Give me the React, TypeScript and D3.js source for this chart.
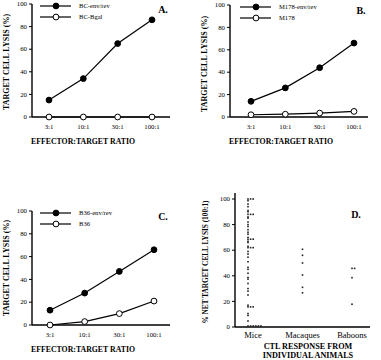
import * as d3 from 'd3'

const ratios = ['3:1', '10:1', '30:1', '100:1']

const seriesA = [
  { name: 'BC-env/rev', filled: true, values: [15, 34, 65, 86] },
  { name: 'BC-Bgal', filled: false, values: [0, 0, 0, 0] },
]
const seriesB = [
  { name: 'M178-env/rev', filled: true, values: [14, 26, 44, 66] },
  { name: 'M178', filled: false, values: [2, 2.5, 3.5, 5] },
]
const seriesC = [
  { name: 'B36-env/rev', filled: true, values: [13, 28, 47, 66] },
  { name: 'B36', filled: false, values: [0, 3, 10, 21] },
]

const yTicks = [0, 20, 40, 60, 80, 100]

const animals = ['Mice', 'Macaques', 'Baboons']
const miceLysis = [100, 100, 100, 98.7, 96, 94, 91, 90, 88, 88, 88, 86, 85, 82, 80, 78.5, 76, 74, 72.5, 70,
  68.6, 68.6, 68.6, 67, 66, 63, 62, 62, 62, 59, 57, 54.5, 51, 46.6, 45, 42, 38.7, 37.4, 34, 30, 28, 25,
  17, 15.7, 15.7, 15.7, 10.5, 9, 4.7, 0.8, 0.8, 0.8, 0.8, 0.8, 0.8]
const macaqueLysis = [60.7, 56, 50, 40.6, 31, 26.7]
const baboonLysis = [45.8, 45.8, 38.5, 17.8]

const serif = '"Liberation Serif", "Times New Roman", serif'

type Series = { name: string; filled: boolean; values: number[] }

interface PanelProps {
  series: Series[]
  label: string
  axisX: [number, number]
  pointX: [number, number]
  yRange: [number, number]
  titleX: number
  titleY: number
  legendX: number
  legendY: number
}

function LinePanel({ series, label, axisX, pointX, yRange, titleX, titleY, legendX, legendY }: PanelProps) {
  const x = d3.scalePoint<string>().domain(ratios).range(pointX)
  const y = d3.scaleLinear().domain([0, 100]).range(yRange)
  const line = d3.line<number>().x((_, i) => x(ratios[i]) as number).y(d => y(d))
  const [x0, x1] = axisX
  const plotMid = (x0 + x1) / 2
  return (
    <g>
      {/* axes */}
      <line x1={x0} x2={x0} y1={y(100)} y2={y(0)} stroke="#000" strokeWidth={1.4} />
      <line x1={x0} x2={x1} y1={y(0)} y2={y(0)} stroke="#000" strokeWidth={1.4} />
      {yTicks.map(t => (
        <g key={t}>
          <line x1={x0 - 3} x2={x0} y1={y(t)} y2={y(t)} stroke="#000" strokeWidth={1} />
          <text x={x0 - 5} y={y(t)} dy="0.33em" textAnchor="end" fontSize={6.8} fontFamily={serif}>{t}</text>
        </g>
      ))}
      {ratios.map(r => (
        <text key={r} x={x(r)} y={y(0) + 12} textAnchor="middle" fontSize={6.8} fontFamily={serif}>{r}</text>
      ))}
      <text x={plotMid - 18} y={y(0) + 27} textAnchor="middle" fontSize={7.8} fontWeight="bold" fontFamily={serif}>
        EFFECTOR:TARGET RATIO
      </text>
      <text transform={`translate(${titleX},${titleY}) rotate(-90)`} textAnchor="middle" fontSize={8}
        fontWeight="bold" fontFamily={serif}>TARGET CELL LYSIS (%)</text>

      {/* series */}
      {series.map(s => (
        <g key={s.name}>
          <path d={line(s.values) ?? ''} fill="none" stroke="#000" strokeWidth={1.2} />
          {s.values.map((v, i) => (
            <circle key={i} cx={x(ratios[i])} cy={y(v)} r={2.9} fill={s.filled ? '#000' : '#fff'}
              stroke="#000" strokeWidth={1} />
          ))}
        </g>
      ))}

      {/* legend */}
      {series.map((s, i) => (
        <g key={s.name} transform={`translate(${legendX},${legendY + i * 11})`}>
          <line x1={0} x2={31} y1={0} y2={0} stroke="#000" strokeWidth={1.2} />
          <circle cx={16} cy={0} r={2.9} fill={s.filled ? '#000' : '#fff'} stroke="#000" strokeWidth={1} />
          <text x={39} y={0} dy="0.33em" fontSize={6.6} fontFamily={serif}>{s.name}</text>
        </g>
      ))}
      <text x={x1 - 7} y={y(100) + 9} textAnchor="middle" fontSize={10} fontWeight="bold" fontFamily={serif}>{label}</text>
    </g>
  )
}

function ScatterPanel() {
  const axisX: [number, number] = [235, 370]
  const x = d3.scalePoint<string>().domain(animals).range([253, 352])
  const y = d3.scaleLinear().domain([0, 100]).range([327, 199])
  const groups = [miceLysis, macaqueLysis, baboonLysis]
  const dots: { cx: number; cy: number }[] = []
  groups.forEach((vals, gi) => {
    const seen = new Map<number, number>()
    const base = (x(animals[gi]) as number) - (gi === 0 ? 5 : 0)
    vals.forEach(v => {
      const k = seen.get(v) ?? 0
      seen.set(v, k + 1)
      dots.push({ cx: base + k * 2.6, cy: y(v) })
    })
  })
  return (
    <g>
      <line x1={axisX[0]} x2={axisX[0]} y1={y(100) - 6} y2={y(0)} stroke="#000" strokeWidth={1.4} />
      <line x1={axisX[0]} x2={axisX[1]} y1={y(0)} y2={y(0)} stroke="#000" strokeWidth={1.4} />
      {yTicks.map(t => (
        <g key={t}>
          <line x1={axisX[0] - 3} x2={axisX[0]} y1={y(t)} y2={y(t)} stroke="#000" strokeWidth={1} />
          <text x={axisX[0] - 5} y={y(t)} dy="0.33em" textAnchor="end" fontSize={6.8} fontFamily={serif}>{t}</text>
        </g>
      ))}
      {animals.map(a => (
        <text key={a} x={x(a)} y={y(0) + 11} textAnchor="middle" fontSize={8.5} fontFamily={serif}>{a}</text>
      ))}
      {dots.map((d, i) => (
        <rect key={i} x={d.cx - 0.8} y={d.cy - 0.8} width={1.6} height={1.6} fill="#222" />
      ))}
      <text x={308} y={y(0) + 22} textAnchor="middle" fontSize={8.2} fontWeight="bold" fontFamily={serif}>CTL RESPONSE FROM</text>
      <text x={308} y={y(0) + 31} textAnchor="middle" fontSize={8.2} fontWeight="bold" fontFamily={serif}>INDIVIDUAL ANIMALS</text>
      <text transform="translate(208,262) rotate(-90)" textAnchor="middle" fontSize={7.3} fontWeight="bold"
        fontFamily={serif}>% NET TARGET CELL LYSIS (100:1)</text>
      <text x={356} y={218} textAnchor="middle" fontSize={10} fontWeight="bold" fontFamily={serif}>D.</text>
    </g>
  )
}

export default function App() {
  return (
    <div style={{ position: 'absolute', left: 0, top: 0 }}>
      <svg width={381} height={360} style={{ display: 'block', background: '#fff' }}>
        <LinePanel series={seriesA} label="A." axisX={[32, 170]} pointX={[49, 152]} yRange={[117, 4]}
          titleX={9} titleY={62} legendX={40} legendY={6} />
        <LinePanel series={seriesB} label="B." axisX={[230, 368]} pointX={[251, 354]} yRange={[117, 5]}
          titleX={207} titleY={64} legendX={240} legendY={7} />
        <LinePanel series={seriesC} label="C." axisX={[32, 170]} pointX={[50, 154]} yRange={[325, 211]}
          titleX={9} titleY={268} legendX={40} legendY={213} />
        <ScatterPanel />
      </svg>
    </div>
  )
}
